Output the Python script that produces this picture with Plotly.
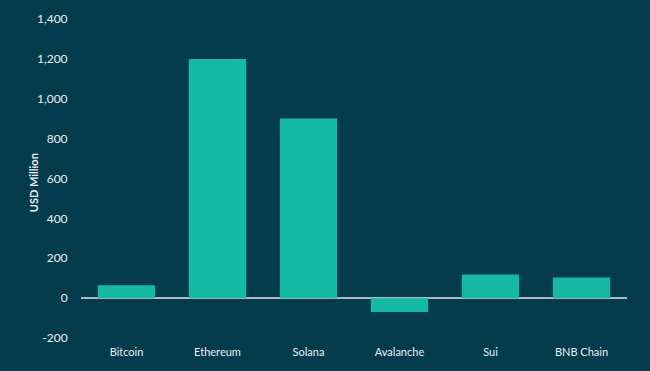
import plotly.graph_objects as go

categories = ["Bitcoin", "Ethereum", "Solana", "Avalanche", "Sui", "BNB Chain"]
values = [64, 1200, 901, -69, 118, 104]
y_ticks = [-200, 0, 200, 400, 600, 800, 1000, 1200, 1400]
y_tick_labels = ["-200", "0", "200", "400", "600", "800", "1,000", "1,200", "1,400"]
y_title = "USD Million"

BG = "#053c4d"
BAR = "#16b9a6"
TXT = "#e6eef0"
FONT = "Lato"

fig = go.Figure(go.Bar(x=categories, y=values, marker=dict(color=BAR, line=dict(width=0))))

fig.update_layout(
    width=650, height=371,
    margin=dict(l=81, r=23, t=19, b=33),
    paper_bgcolor=BG, plot_bgcolor=BG,
    bargap=0.37,
    showlegend=False,
    font=dict(family=FONT, color=TXT, size=11),
)
fig.update_xaxes(
    showgrid=False, showline=False, zeroline=False,
    ticks="outside", ticklen=4, tickcolor="rgba(0,0,0,0)",
    tickfont=dict(family=FONT, size=11, color=TXT),
)
fig.update_yaxes(
    range=[-200, 1400], tickvals=y_ticks, ticktext=y_tick_labels,
    showgrid=False, showline=False,
    zeroline=True, zerolinecolor="#a9bcc3", zerolinewidth=1.5,
    ticks="outside", ticklen=10, tickcolor="rgba(0,0,0,0)",
    tickfont=dict(family=FONT, size=12, color=TXT),
)
fig.add_annotation(
    text="<b>" + y_title + "</b>", textangle=-90,
    xref="paper", yref="paper", x=-0.088, y=0.488,
    xanchor="center", yanchor="middle", showarrow=False,
    font=dict(family=FONT, size=11, color=TXT),
)

fig.write_html("out.html")
